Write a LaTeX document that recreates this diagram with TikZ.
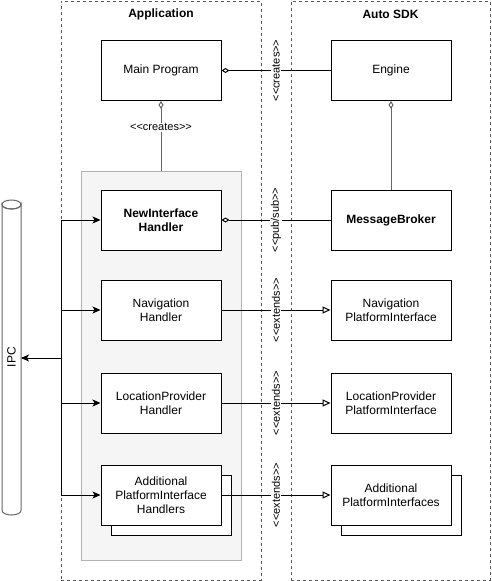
\documentclass[tikz,border=0pt]{standalone}
\usepackage{fontspec}
\setmainfont{Liberation Sans}
\usetikzlibrary{arrows.meta}
\newcommand\myLL{<\kern0pt<\kern0pt}
\newcommand\myGG{\kern0pt>\kern0pt>}
\begin{document}
\begin{tikzpicture}[x=1pt,y=-1pt,
  box/.style={draw=black,fill=white,line width=1pt,minimum width=120pt,minimum height=60pt,inner sep=0pt,align=center,font=\fontsize{12}{14}\selectfont},
  boldbox/.style={box,font=\bfseries\fontsize{12}{14}\selectfont},
  lbl/.style={fill=white,inner sep=1pt,font=\fontsize{11}{13}\selectfont},
  vlbl/.style={lbl,rotate=90},
  frame/.style={draw=black!65,line width=1pt,dash pattern=on 3pt off 3pt,inner sep=0pt},
  title/.style={font=\bfseries\fontsize{12}{14}\selectfont},
  conn/.style={line width=1pt,draw=black},
  grayconn/.style={line width=1pt,draw=black!60},
  agg/.style={conn,{Diamond[fill=white,length=8pt,width=5pt]}-},
  grayagg/.style={grayconn,{Diamond[fill=white,length=8pt,width=5pt]}-},
  ext/.style={conn,-{Triangle[fill=white,length=8pt,width=7pt]}},
  arr/.style={conn,-{Stealth[length=8pt,width=7pt,inset=2pt]}},
]
\useasboundingbox (0,0) rectangle (491,581);
\fill[white] (0,0) rectangle (491,581);

% frames
\node[frame,minimum width=200pt,minimum height=579pt] (appframe) at (161,290.5) {};
\node[frame,minimum width=199pt,minimum height=579pt] (sdkframe) at (390.5,290.5) {};
\node[title] (apptitle) at (161,14) {Application};
\node[title] (sdktitle) at (390.5,14) {Auto SDK};

% container
\node[draw=black!30,fill=black!4,line width=1pt,minimum width=160pt,minimum height=389pt,inner sep=0pt] (grp) at (161,365.5) {};

% IPC cylinder
\draw[line width=1pt,draw=black!60,fill=white] (2,204.5) -- (2,510.5) arc[start angle=180,end angle=0,x radius=9.5,y radius=4.5] -- (21,204.5) arc[start angle=0,end angle=180,x radius=9.5,y radius=4.5] -- cycle;
\draw[line width=1pt,draw=black!60] (11.5,204.5) ellipse[x radius=9.5,y radius=4.5];
\node[rotate=90,font=\fontsize{12}{14}\selectfont] (ipc) at (11.5,357) {IPC};
\coordinate (ipcE) at (21,358);

% boxes
\node[box] (main) at (161,70.5) {Main Program};
\node[box] (engine) at (391,70.5) {Engine};
\node[boldbox] (nih) at (161,220) {NewInterface\\Handler};
\node[boldbox] (mb) at (391,220) {MessageBroker};
\node[box] (navh) at (161,310) {Navigation\\Handler};
\node[box] (navpi) at (391,310) {Navigation\\PlatformInterface};
\node[box] (loch) at (161,403) {LocationProvider\\Handler};
\node[box] (locpi) at (391,403) {LocationProvider\\PlatformInterface};
\node[box] (addhb) at (171,505) {};
\node[box] (addh) at (161,495) {Additional\\PlatformInterface\\Handlers};
\node[box] (addpib) at (401,505) {};
\node[box] (addpi) at (391,495) {Additional\\PlatformInterfaces};

% bus
\coordinate (b1) at (61,220);
\coordinate (b2) at (61,310);
\coordinate (bi) at (61,358);
\coordinate (b3) at (61,403);
\coordinate (b4) at (61,495);
\draw[conn] (b1) -- (b4);
\draw[arr] (b1) -- (nih.west);
\draw[arr] (b2) -- (navh.west);
\draw[arr] (b3) -- (loch.west);
\draw[arr] (b4) -- (addh.west);
\draw[arr] (bi) -- (ipcE);

% connectors
\draw[agg] (main.east) -- node[vlbl,midway] {\myLL creates\myGG} (engine.west);
\draw[grayagg] (main.south) -- node[lbl,pos=0.38] {\myLL creates\myGG} (grp.north);
\draw[grayagg] (engine.south) -- (mb.north);
\draw[agg] (nih.east) -- node[vlbl,midway] {\myLL pub/sub\myGG} (mb.west);
\draw[ext] (navh.east) -- node[vlbl,midway] {\myLL extends\myGG} (navpi.west);
\draw[ext] (loch.east) -- node[vlbl,midway] {\myLL extends\myGG} (locpi.west);
\draw[ext] (addh.east) -- node[vlbl,midway] {\myLL extends\myGG} (addpi.west);
\end{tikzpicture}
\end{document}
